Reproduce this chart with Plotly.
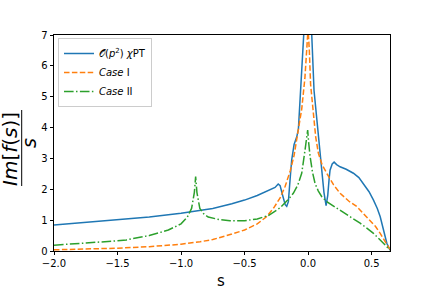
import plotly.graph_objects as go

# chi-PT O(p^2)
s_chpt = [-2.0, -1.75, -1.5, -1.25, -1.0, -0.75, -0.6, -0.5, -0.4, -0.3, -0.26, -0.235,
          -0.22, -0.2, -0.18, -0.168, -0.155, -0.14, -0.129, -0.11, -0.089, -0.076,
          -0.058, -0.045, -0.035, -0.02, 0.0, 0.015, 0.029, 0.047, 0.065, 0.081,
          0.095, 0.108, 0.125, 0.142, 0.155, 0.165, 0.173, 0.19, 0.205, 0.225,
          0.252, 0.3, 0.357, 0.4, 0.436, 0.48, 0.515, 0.545, 0.568, 0.595, 0.62, 0.645]
f_chpt = [0.84, 0.92, 1.0, 1.1, 1.22, 1.38, 1.53, 1.65, 1.8, 1.98, 2.06, 2.17,
          2.12, 1.8, 1.5, 1.45, 1.6, 2.4, 2.95, 3.45, 3.7, 3.95,
          5.2, 6.3, 7.0, 8.5, 9.5, 8.0, 7.0, 5.2, 4.4, 3.92,
          3.1, 2.52, 1.9, 1.47, 1.8, 2.3, 2.62, 2.82, 2.88, 2.8,
          2.73, 2.65, 2.52, 2.38, 2.19, 1.92, 1.65, 1.38, 1.11, 0.7, 0.25, 0.03]

# Case I
s_case1 = [-2.0, -1.75, -1.5, -1.25, -1.0, -0.85, -0.75, -0.6, -0.5, -0.4, -0.33, -0.27,
           -0.22, -0.18, -0.14, -0.11, -0.09, -0.07, -0.05, -0.025, -0.01, 0.0,
           0.01, 0.02, 0.042, 0.06, 0.081, 0.11, 0.147, 0.2, 0.252, 0.32, 0.384,
           0.44, 0.489, 0.53, 0.568, 0.6, 0.633, 0.645]
f_case1 = [0.04, 0.06, 0.09, 0.14, 0.22, 0.3, 0.37, 0.55, 0.68, 0.88, 1.1, 1.4,
           1.72, 2.1, 2.6, 3.1, 3.6, 4.0, 4.6, 5.6, 6.6, 7.2,
           6.5, 5.4, 4.46, 3.7, 3.17, 2.8, 2.52, 2.15, 1.87, 1.62, 1.44,
           1.2, 1.0, 0.8, 0.57, 0.36, 0.14, 0.05]

# Case II
s_case2 = [-2.0, -1.75, -1.5, -1.43, -1.25, -1.1, -1.0, -0.95, -0.917, -0.895, -0.885,
           -0.875, -0.852, -0.82, -0.786, -0.7, -0.615, -0.5, -0.4, -0.313, -0.22,
           -0.16, -0.116, -0.08, -0.05, -0.024, -0.01, -0.003, 0.005, 0.016, 0.035,
           0.055, 0.08, 0.108, 0.147, 0.2, 0.252, 0.33, 0.41, 0.46, 0.515, 0.57,
           0.62, 0.645]
f_case2 = [0.19, 0.25, 0.33, 0.36, 0.5, 0.68, 0.88, 1.1, 1.38, 1.9, 2.41,
           1.9, 1.38, 1.2, 1.1, 1.02, 0.98, 0.98, 1.04, 1.15, 1.4,
           1.65, 1.87, 2.15, 2.52, 3.27, 3.7, 3.92, 3.5, 3.06, 2.55,
           2.19, 1.95, 1.76, 1.6, 1.46, 1.33, 1.12, 0.9, 0.75, 0.57, 0.35,
           0.14, 0.03]

x_ticks = [-2.0, -1.5, -1.0, -0.5, 0.0, 0.5]
y_ticks = [0, 1, 2, 3, 4, 5, 6, 7]

fig = go.Figure()
fig.add_trace(go.Scatter(x=s_chpt, y=f_chpt, mode="lines",
                         line=dict(color="#1f77b4", width=1.5),
                         name="𝒪(<i>p</i><sup>2</sup>) <i>χ</i>PT"))
fig.add_trace(go.Scatter(x=s_case1, y=f_case1, mode="lines",
                         line=dict(color="#ff7f0e", width=1.5, dash="5.5px,2.4px"),
                         name="<i>Case</i> I"))
fig.add_trace(go.Scatter(x=s_case2, y=f_case2, mode="lines",
                         line=dict(color="#2ca02c", width=1.5, dash="9.6px,2.4px,1.5px,2.4px"),
                         name="<i>Case</i> II"))

axis_common = dict(showline=True, linecolor="black", linewidth=0.8, mirror=True,
                   ticks="outside", ticklen=3.5, tickwidth=0.8, tickcolor="black",
                   showgrid=False, zeroline=False, automargin=False,
                   tickfont=dict(family="DejaVu Sans", size=10, color="black"))

L, R, T, B = 54, 390, 35, 251
W, H = R - L, B - T

def px(x):
    return (x - L) / W

def py(y):
    return (B - y) / H

fig.update_layout(
    width=432, height=288,
    margin=dict(l=L, r=432 - R, t=T, b=288 - B, autoexpand=False),
    plot_bgcolor="white", paper_bgcolor="white",
    xaxis=dict(range=[-2.0, 0.645], tickvals=x_ticks,
               ticktext=["−2.0", "−1.5", "−1.0", "−0.5", "0.0", "0.5"],
               **axis_common),
    yaxis=dict(range=[0, 7], tickvals=y_ticks, **axis_common),
    showlegend=True,
    legend=dict(x=px(58), y=py(38), xanchor="left", yanchor="top",
                bgcolor="rgba(255,255,255,0.8)", bordercolor="#cccccc", borderwidth=1,
                font=dict(family="DejaVu Sans", size=10, color="black"),
                itemwidth=30, tracegroupgap=0),
)

# x-axis label
fig.add_annotation(xref="paper", yref="paper", x=px(221), y=py(281),
                   text="s", showarrow=False,
                   font=dict(family="DejaVu Sans", size=15, color="black"),
                   xanchor="center", yanchor="middle")

# y-axis label as a fraction  Im[f(s)] / s
fig.add_annotation(xref="paper", yref="paper", x=px(10), y=py(149),
                   text="<i>Im</i>[<i>f</i>(<i>s</i>)]", textangle=-90, showarrow=False,
                   font=dict(family="DejaVu Sans", size=20, color="black"),
                   xanchor="center", yanchor="middle")
fig.add_annotation(xref="paper", yref="paper", x=px(29), y=py(143),
                   text="<i>s</i>", textangle=-90, showarrow=False,
                   font=dict(family="DejaVu Sans", size=19, color="black"),
                   xanchor="center", yanchor="middle")
fig.add_shape(type="line", xref="paper", yref="paper",
              x0=px(21.7), x1=px(21.7), y0=py(110), y1=py(186),
              line=dict(color="black", width=1))

fig.write_html("out.html", config={"displayModeBar": False},
               post_script="document.body.style.margin='0px';document.body.style.overflow='hidden';")
